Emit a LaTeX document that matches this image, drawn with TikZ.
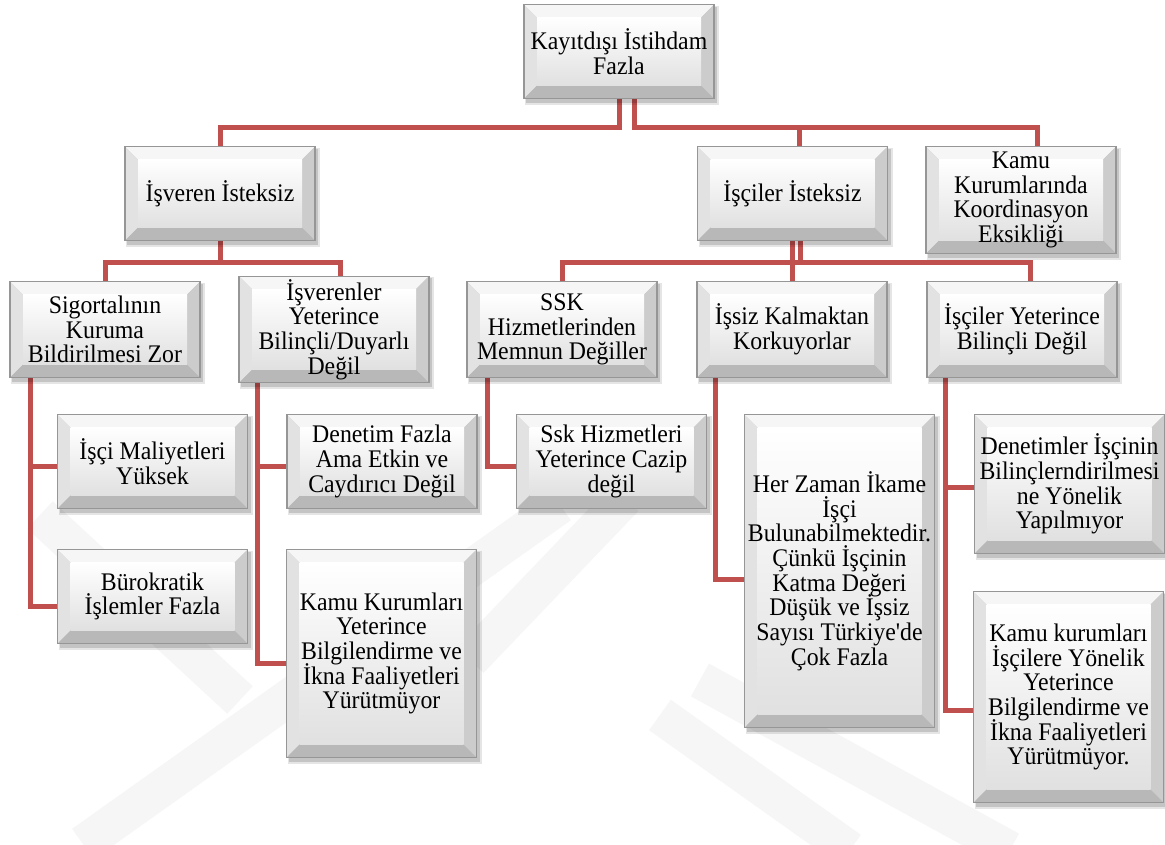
\documentclass[tikz,border=0pt]{standalone}
\usepackage{fontspec}
\setmainfont{Liberation Serif}
\newfontfamily\cardfont{Liberation Serif}[FakeStretch=0.94, Ligatures=TeXOff]
\newcommand{\cardtext}{\cardfont\fontsize{19}{18.5}\selectfont\lineskiplimit=-20pt\relax}
\usetikzlibrary{calc,backgrounds}

\definecolor{linkred}{RGB}{192,80,77}
\definecolor{cardedge}{RGB}{150,150,150}
\definecolor{beveltop}{RGB}{246,246,246}
\definecolor{bevelleft}{RGB}{226,226,226}
\definecolor{bevelright}{RGB}{204,204,204}
\definecolor{bevelbottom}{RGB}{184,184,184}
\definecolor{watermark}{RGB}{246,246,246}

\tikzset{every picture/.style={line width=0.75pt}}
\tikzset{
  card/.style={rectangle, minimum width=141.75pt, minimum height=69.75pt, inner xsep=0pt, inner ysep=2pt, align=center, font=\cardtext},
  link/.style={draw=linkred, line width=3.75pt},
  band/.style={draw=watermark, line width=28pt},
}

\newcommand{\cardback}[1]{%
  \fill[black, opacity=0.10] ($(#1.north west)+(1,1)$) rectangle ($(#1.south east)+(5,6)$);
  \fill[black, opacity=0.14] ($(#1.north west)+(2,2)$) rectangle ($(#1.south east)+(3,4)$);
  \fill[beveltop] (#1.north west) -- (#1.north east) -- ($(#1.north east)+(-13,13)$) -- ($(#1.north west)+(13,13)$) -- cycle;
  \fill[bevelleft] (#1.north west) -- ($(#1.north west)+(13,13)$) -- ($(#1.south west)+(13,-13)$) -- (#1.south west) -- cycle;
  \fill[bevelright] (#1.north east) -- ($(#1.north east)+(-13,13)$) -- ($(#1.south east)+(-13,-13)$) -- (#1.south east) -- cycle;
  \fill[bevelbottom] (#1.south west) -- ($(#1.south west)+(13,-13)$) -- ($(#1.south east)+(-13,-13)$) -- (#1.south east) -- cycle;
  \shade[top color=white, bottom color=gray!24] ($(#1.north west)+(13,13)$) rectangle ($(#1.south east)+(-13,-13)$);
  \draw[cardedge, line width=0.9pt] (#1.north west) rectangle (#1.south east);
}

\begin{document}
\begin{tikzpicture}[x=0.75pt,y=0.75pt,yscale=-1,xscale=1]

\useasboundingbox (0,0) rectangle (1165,844);

\node [card] (root) at (619,51.5) {Kayıtdışı İstihdam\\Fazla};

\node [card] (isveren) at (220,193.5) {İşveren İsteksiz};
\node [card] (isciler) at (792.5,193.5) {İşçiler İsteksiz};
\node [card, minimum height=79.5pt] (kamu) at (1021,200) {Kamu\\Kurumlarında\\Koordinasyon\\Eksikliği};

\node [card, minimum height=71.25pt] (sigorta) at (105,329.5) {Sigortalının\\Kuruma\\Bildirilmesi Zor};
\node [card, minimum height=71.25pt] (bilincli) at (334,329.5) {İşverenler\\Yeterince\\Bilinçli/Duyarlı\\Değil};
\node [card, minimum height=71.25pt] (ssk) at (562,329.5) {SSK\\Hizmetlerinden\\Memnun Değiller};
\node [card, minimum height=71.25pt] (issiz) at (792,329.5) {İşsiz Kalmaktan\\Korkuyorlar};
\node [card, minimum height=71.25pt] (iscibil) at (1022,329.5) {İşçiler Yeterince\\Bilinçli Değil};

\node [card] (maliyet) at (152.5,461.5) {İşçi Maliyetleri\\Yüksek};
\node [card] (burokrat) at (152.5,596.5) {Bürokratik\\İşlemler Fazla};
\node [card] (denetim) at (382,461.5) {Denetim Fazla\\Ama Etkin ve\\Caydırıcı Değil};
\node [card, minimum height=155.25pt] (kamubilgi) at (381.5,653.5) {Kamu Kurumları\\Yeterince\\Bilgilendirme ve\\İkna Faaliyetleri\\Yürütmüyor};
\node [card] (cazip) at (611.5,461.5) {Ssk Hizmetleri\\Yeterince Cazip\\değil};
\node [card, minimum height=234pt] (ikame) at (839.5,571) {Her Zaman İkame\\İşçi\\Bulunabilmektedir.\\Çünkü İşçinin\\Katma Değeri\\Düşük ve İşsiz\\Sayısı Türkiye'de\\Çok Fazla};
\node [card, minimum height=103.5pt] (denetimler) at (1069.5,484) {Denetimler İşçinin\\Bilinçlerndirilmesi\\ne Yönelik\\Yapılmıyor};
\node [card, minimum height=157.5pt] (kamuisci) at (1068.5,697) {Kamu kurumları\\İşçilere Yönelik\\Yeterince\\Bilgilendirme ve\\İkna Faaliyetleri\\Yürütmüyor.};

\coordinate (bus1) at (0,127);
\coordinate (bus2) at (0,262);

\begin{scope}[on background layer]
\fill [white] (0,0) rectangle (1165,844);
\begin{scope}
\clip (0,0) rectangle (1165,844);
\draw [band] (83,844) -- (560,505);
\draw [band] (470,660) -- (625,498);
\draw [band] (660,715) -- (850,850);
\draw [band] (700,680) -- (1010,850);
\draw [band] (40,515) -- (240,700);
\end{scope}

\draw [link] (root.south) |- (isveren.north |- bus1) -- (isveren.north);
\draw [link] ($(root.south)+(15,0)$) |- ($(kamu.north |- bus1)+(16,0)$) -- ($(kamu.north)+(16,0)$);
\draw [link] ($(isciler.north |- bus1)+(6.5,0)$) -- ($(isciler.north)+(6.5,0)$);

\draw [link] (isveren.south) -- (isveren.south |- bus2) -| (sigorta.north);
\draw [link] (isveren.south |- bus2) -| ($(bilincli.north)+(6,0)$);
\draw [link] (issiz.north) -- (issiz.north |- isciler.south);
\draw [link] ($(isciler.south)+(8,0)$) -- ($(isciler.south |- bus2)+(8,0)$);
\draw [link] (ssk.north) |- ($(iscibil.north |- bus2)+(8,0)$) -- ($(iscibil.north)+(8,0)$);

\draw [link] ($(sigorta.south west)+(20,0)$) |- ($(maliyet.west)+(0,5)$);
\draw [link] ($(sigorta.south west)+(20,0)$) |- ($(burokrat.west)+(0,10)$);
\draw [link] ($(bilincli.south west)+(18,0)$) |- ($(denetim.west)+(0,5)$);
\draw [link] ($(bilincli.south west)+(18,0)$) |- ($(kamubilgi.west)+(0,10)$);
\draw [link] ($(ssk.south west)+(20,0)$) |- ($(cazip.west)+(0,5)$);
\draw [link] ($(issiz.south west)+(18,0)$) |- ($(ikame.west)+(0,8)$);
\draw [link] ($(iscibil.south west)+(18,0)$) |- ($(denetimler.west)+(0,3)$);
\draw [link] ($(iscibil.south west)+(18,0)$) |- ($(kamuisci.west)+(0,13)$);

\foreach \n in {root,isveren,isciler,kamu,sigorta,bilincli,ssk,issiz,iscibil,maliyet,burokrat,denetim,kamubilgi,cazip,ikame,denetimler,kamuisci}
  {\cardback{\n}}
\end{scope}

\end{tikzpicture}
\end{document}
